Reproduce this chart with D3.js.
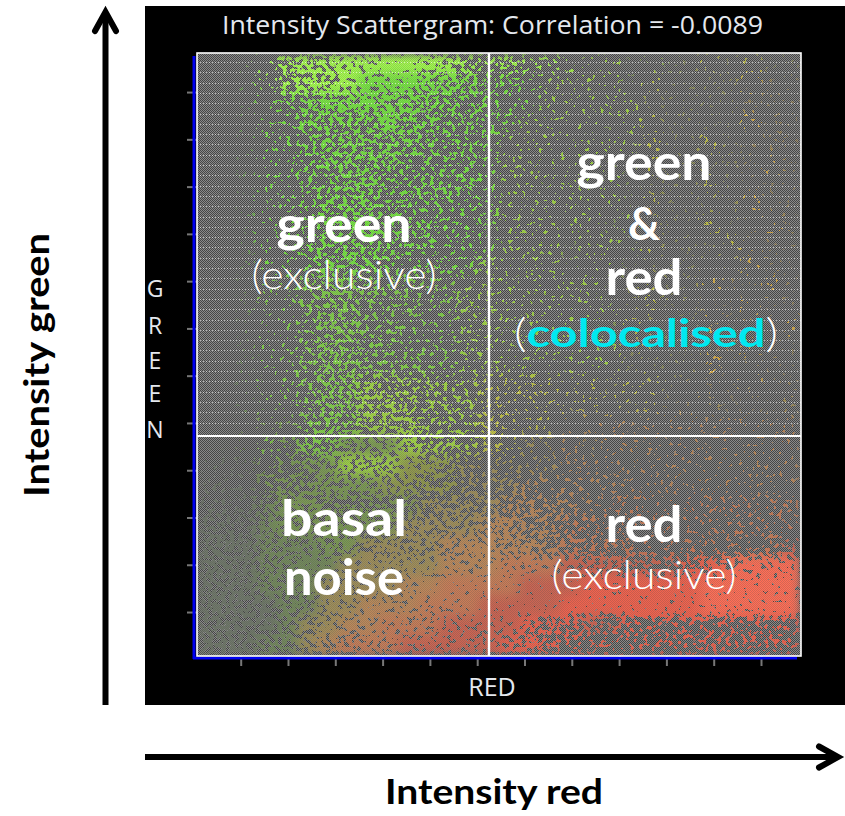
<!DOCTYPE html>
<html><head><meta charset="utf-8">
<script src="https://cdn.jsdelivr.net/npm/d3@7"></script>
<style>html,body{margin:0;padding:0;background:#fff}svg{display:block}</style>
</head><body><div id="chart"></div>
<script>
// Tick counts of the scattergram axes (the reference has unlabelled ticks)
const axisTicks = [1,2,3,4,5,6,7,8,9,10,11,12];
const titleText = "Intensity Scattergram: Correlation = -0.0089";
const yLetters = ["G","R","E","E","N"];
// Pixel density per coarse bin (0 empty .. 9 solid); top row first
const density = [
"00136 77889 98765 64422 21211 21211",
"00136 77888 87765 53322 21211 11211",
"00125 67777 76655 43322 22111 11111",
"00124 66667 66555 43322 12211 11211",
"00124 56666 65554 33222 22211 21111",
"00123 56666 55554 33222 11211 11121",
"00123 55665 55554 33222 21111 21111",
"00123 46665 55544 33222 21211 11211",
"00123 56665 55444 33222 12111 21121",
"00123 56665 55443 33212 21211 12111",
"00123 56665 44444 23212 21111 11211",
"00123 56655 54444 32222 11211 21121",
"00123 56655 54444 23222 21211 11211",
"00123 46655 44444 33222 12111 21112",
"00123 56655 44444 23222 21211 11211",
"00123 56655 54444 33222 21111 21111",
"00123 56665 55444 33222 12211 11211",
"00123 56666 55554 33222 22211 21112",
"00123 56666 65555 33322 22222 22222",
"11234 66777 76655 44433 33322 22222",
"22345 67777 87654 44433 33333 22333",
"44456 67777 76655 55444 43333 33333",
"55567 76666 66666 66554 44433 34444",
"66677 77777 77777 76655 44444 44444",
"77777 77777 77788 77665 55444 44455",
"77777 88888 88888 88887 76666 77888",
"77777 88888 89999 99999 99999 99999",
"77777 78888 88899 99999 99999 99999",
"77777 78888 88888 87666 55555 55555",
"77777 77788 88888 77655 44555 55555"
];
// Colour class per coarse bin
const hueGrid = [
"fffff fffff fffff ffffo oooog ggggg",
"eeeff fffee eeeee eeooo ooggg ggppp",
"eeeee eeeee eeeee eeooo ooggg ggppp",
"eeeee eeeee eeeee eoooo ooggg ggppp",
"eeeee eeeee eeeee ooooo ooggg ggppp",
"eeeee eeeee eeeee ooooo ooggg ggppp",
"eeeee eeeee eeeee ooooo ooggg ggppp",
"eeeee eeeee eeeee ooooo ooggg ggppp",
"eeeee eeeee eeeee ooooo ooggg ggppp",
"eeeee eeeee eeeee ooooo ooggg ggppp",
"eeeee eeeee eeeeo ooooo ooggg ggppp",
"nnnnn nnnnn nnnoo ooooo ogggg ppppp",
"nnnnn nnnnn nnnoo ooooo ogggg ppppp",
"nnnnn nnnnn nnnoo ooooo ogggg ppppp",
"nnnnn nnnnn nnnoo ooooo ogggg ppppp",
"nnnnn nnnnn nnnoo ooooo ogggg ppppp",
"nnnnn nnnoo oooog ggggg ggggp ppppp",
"nnnnn nnnoo oooog ggggg gggpp hhhhh",
"ccccc nnnoo oooog gggii iiiii iiiii",
"aacnc nnccc oooog ghhih iiiii iiiii",
"aaacc ccooo dddhh hhhii iiiii iiiii",
"aaacc ccccd dddhh hiiii iiiii iiiii",
"aaabc ccccc chhhh iiiii jjjjj jjjjj",
"aaabc ccccc hhhhi iiijj jjjjj jjjjj",
"aaabb bcchh hhiii iiijj jjjjj jjjjk",
"aaabb bbhhh hhiii jjjkk kkkkl lmmmm",
"aaabb bhhhh iijjj jkkkl lllll mmmmm",
"aaaab bhhii ijjjk kkkll lllll mmmmm",
"aaaab hhiij jjkkk klllk kllll lllll",
"aaabb hijjj kkkkk lllll lllll lllll"
];
const hueColors = {a:"#70786a",b:"#748a5e",c:"#7c9a56",d:"#929a50",e:"#78e644",f:"#a8ff50",g:"#c4c448",p:"#dcae48",
  h:"#a0905c",i:"#bc8a5c",j:"#c87e5a",k:"#cc6654",l:"#f06450",m:"#ff7058",n:"#84d24c",o:"#a4d848"};

const W=845,H=816;
const svg=d3.select("#chart").append("svg").attr("width",W).attr("height",H);
svg.append("rect").attr("width",W).attr("height",H).attr("fill","#fff");
svg.append("rect").attr("x",145).attr("y",6).attr("width",700).attr("height",699).attr("fill","#000");

const P={l:197,r:801,t:53,b:656,cx:489,cy:436};
const xBand=d3.scaleBand().domain(d3.range(30)).range([P.l,P.r]);
const yBand=d3.scaleBand().domain(d3.range(30)).range([P.t,P.b]);
const densRows=density.map(s=>s.replace(/ /g,"").split("").map(Number));
const hueRows=hueGrid.map(s=>s.replace(/ /g,"").split(""));
const cells=d3.merge(densRows.map((row,j)=>row.map((d,i)=>({i,j,d,c:hueColors[hueRows[j][i]]||"#888"}))));
const densGray=d3.scalePow().exponent(2).domain([0,9]).range([0,255]);

const defs=svg.append("defs");
const checker=defs.append("pattern").attr("id","chk").attr("width",2).attr("height",2).attr("patternUnits","userSpaceOnUse");
checker.append("rect").attr("width",2).attr("height",2).attr("fill","#8a8a8a");
checker.append("rect").attr("width",1).attr("height",1).attr("fill","#484848");
checker.append("rect").attr("x",1).attr("y",1).attr("width",1).attr("height",1).attr("fill","#484848");
const chk2=defs.append("pattern").attr("id","chk2").attr("width",2).attr("height",2).attr("patternUnits","userSpaceOnUse");
chk2.append("rect").attr("width",1).attr("height",1).attr("fill","#404040").attr("opacity",.22);
chk2.append("rect").attr("x",1).attr("y",1).attr("width",1).attr("height",1).attr("fill","#404040").attr("opacity",.22);

// Speckle rendering of the density field (texture only: values come from the grid)
const f=defs.append("filter").attr("id","speck")
  .attr("filterUnits","userSpaceOnUse").attr("x",P.l).attr("y",P.t).attr("width",P.r-P.l).attr("height",P.b-P.t)
  .attr("color-interpolation-filters","sRGB");
f.append("feGaussianBlur").attr("in","SourceGraphic").attr("stdDeviation",3.5).attr("result","b");
f.append("feTurbulence").attr("type","fractalNoise").attr("baseFrequency",0.23).attr("numOctaves",2).attr("seed",7).attr("result","t");
f.append("feColorMatrix").attr("in","t").attr("type","matrix")
  .attr("values","2.4 0 0 0 -0.7  2.4 0 0 0 -0.7  2.4 0 0 0 -0.7  0 0 0 0 1").attr("result","n");
f.append("feComposite").attr("in","b").attr("in2","n").attr("operator","arithmetic")
  .attr("k1",0).attr("k2",1).attr("k3",1).attr("k4",-1).attr("result","s");
const ct=f.append("feComponentTransfer").attr("in","s");
["feFuncR","feFuncG","feFuncB"].forEach(k=>ct.append(k).attr("type","linear").attr("slope",30).attr("intercept",0));
const blurF=defs.append("filter").attr("id","soft").attr("filterUnits","userSpaceOnUse")
  .attr("x",P.l).attr("y",P.t).attr("width",P.r-P.l).attr("height",P.b-P.t).attr("color-interpolation-filters","sRGB");
blurF.append("feGaussianBlur").attr("stdDeviation",6);

const mask=defs.append("mask").attr("id","speckMask").attr("maskUnits","userSpaceOnUse")
  .attr("x",P.l).attr("y",P.t).attr("width",P.r-P.l).attr("height",P.b-P.t);
mask.append("g").attr("filter","url(#speck)").selectAll("rect").data(cells).join("rect")
  .attr("x",d=>xBand(d.i)).attr("y",d=>yBand(d.j)).attr("width",xBand.bandwidth()+.5).attr("height",yBand.bandwidth()+.5)
  .attr("fill",d=>{const g=Math.round(densGray(d.d));return `rgb(${g},${g},${g})`});

svg.append("rect").attr("x",P.l).attr("y",P.t).attr("width",P.r-P.l).attr("height",P.b-P.t).attr("fill","url(#chk)");
svg.append("g").attr("mask","url(#speckMask)").append("g").attr("filter","url(#soft)")
  .selectAll("rect").data(cells).join("rect")
  .attr("x",d=>xBand(d.i)).attr("y",d=>yBand(d.j)).attr("width",xBand.bandwidth()+.5).attr("height",yBand.bandwidth()+.5)
  .attr("fill",d=>d.c);
svg.append("rect").attr("x",P.l).attr("y",P.t).attr("width",P.r-P.l).attr("height",P.b-P.t).attr("fill","url(#chk2)");

// dotted scan rows of the upper half
svg.append("g").selectAll("line").data(d3.range(62,430,10.3)).join("line")
  .attr("x1",P.l).attr("x2",P.r).attr("y1",d=>Math.round(d)+.5).attr("y2",d=>Math.round(d)+.5)
  .attr("stroke","#fff").attr("stroke-opacity",.6).attr("stroke-dasharray","1 2");

// Axes
const xTick=d3.scaleLinear().domain([0,13]).range([193.4,808.3]);
const yTick=d3.scaleLinear().domain([0,13]).range([659.3,44.8]);
const gx=svg.append("g").attr("transform","translate(0,656)").call(d3.axisBottom(xTick).tickValues(axisTicks).tickSize(10).tickFormat(""));
const gy=svg.append("g").attr("transform","translate(197,0)").call(d3.axisLeft(yTick).tickValues(axisTicks).tickSize(10).tickFormat(""));
[gx,gy].forEach(g=>{g.select(".domain").remove();g.selectAll("line").attr("stroke","#777").attr("stroke-width",2)});
svg.append("line").attr("x1",194).attr("x2",194).attr("y1",56).attr("y2",659).attr("stroke","#0000f0").attr("stroke-width",3);
svg.append("line").attr("x1",193).attr("x2",797).attr("y1",658).attr("y2",658).attr("stroke","#0000f0").attr("stroke-width",3);

// frame and quadrant lines
svg.append("rect").attr("x",P.l).attr("y",P.t).attr("width",P.r-P.l).attr("height",P.b-P.t)
  .attr("fill","none").attr("stroke","#fff").attr("stroke-width",1.6);
svg.append("line").attr("x1",P.cx).attr("x2",P.cx).attr("y1",P.t).attr("y2",P.b).attr("stroke","#fff").attr("stroke-width",2.4);
svg.append("line").attr("x1",P.l).attr("x2",P.r).attr("y1",P.cy).attr("y2",P.cy).attr("stroke","#fff").attr("stroke-width",2);

// window text
const win="'Open Sans','Noto Sans',sans-serif";
svg.append("text").attr("x",492.5).attr("y",34).attr("text-anchor","middle").attr("fill","#e4e8ee")
  .attr("font-family",win).attr("font-size",25).attr("textLength",541).attr("lengthAdjust","spacingAndGlyphs").text(titleText);
svg.append("text").attr("x",492).attr("y",696).attr("text-anchor","middle").attr("fill","#e4e8ee")
  .attr("font-family",win).attr("font-size",25).text("RED");
const gy2=[297,334,369,402,438];
svg.append("g").selectAll("text").data(yLetters).join("text").attr("x",155).attr("y",(d,i)=>gy2[i])
  .attr("text-anchor","middle").attr("fill","#e4e8ee").attr("font-family",win).attr("font-size",23).attr("font-weight",500).text(d=>d);

// Overlay labels
const lab="Lato,'Open Sans',sans-serif";
const labels=[
 {t:"green",x:344,y:242,w:700,s:50,L:135},
 {t:"(exclusive)",x:344,y:289,w:300,s:39,L:185},
 {t:"green",x:644,y:180,w:700,s:50,L:135},
 {t:"&",x:644,y:240,w:700,s:46,L:32},
 {t:"red",x:644,y:295,w:700,s:50,L:77},
 {t:"basal",x:344,y:536,w:700,s:50,L:126},
 {t:"noise",x:344,y:595,w:700,s:50,L:120},
 {t:"red",x:644,y:542,w:700,s:50,L:77},
 {t:"(exclusive)",x:644,y:589,w:300,s:39,L:185}
];
svg.append("g").selectAll("text").data(labels).join("text")
  .attr("x",d=>d.x).attr("y",d=>d.y).attr("text-anchor","middle").attr("fill","#fff")
  .attr("font-family",lab).attr("font-size",d=>d.s).attr("font-weight",d=>d.w)
  .attr("textLength",d=>d.L).attr("lengthAdjust","spacingAndGlyphs").text(d=>d.t);
const co=svg.append("text").attr("x",646).attr("y",347).attr("text-anchor","middle").attr("fill","#fff")
  .attr("font-family",lab).attr("font-size",39).attr("font-weight",300)
  .attr("textLength",264).attr("lengthAdjust","spacingAndGlyphs");
co.append("tspan").text("(");
co.append("tspan").attr("fill","#00e8f0").attr("font-weight",700).text("colocalised");
co.append("tspan").text(")");

// Outer axis titles and arrows
svg.append("text").attr("x",494).attr("y",804).attr("text-anchor","middle").attr("fill","#000")
  .attr("font-family",lab).attr("font-size",34).attr("font-weight",700).attr("textLength",218).attr("lengthAdjust","spacingAndGlyphs").text("Intensity red");
svg.append("text").attr("transform","translate(49,365) rotate(-90)").attr("text-anchor","middle").attr("fill","#000")
  .attr("font-family",lab).attr("font-size",34).attr("font-weight",700).attr("textLength",264).attr("lengthAdjust","spacingAndGlyphs").text("Intensity green");
const arrows=svg.append("g").attr("fill","none").attr("stroke","#000").attr("stroke-width",6).attr("stroke-linecap","round").attr("stroke-linejoin","miter");
arrows.append("path").attr("d","M105.5,705V12").attr("stroke-linecap","butt");
arrows.append("path").attr("d","M95,31L105.5,12L116,31");
arrows.append("path").attr("d","M145,757H838").attr("stroke-linecap","butt");
arrows.append("path").attr("d","M819,746.5L838,757L819,767.5");
</script></body></html>
